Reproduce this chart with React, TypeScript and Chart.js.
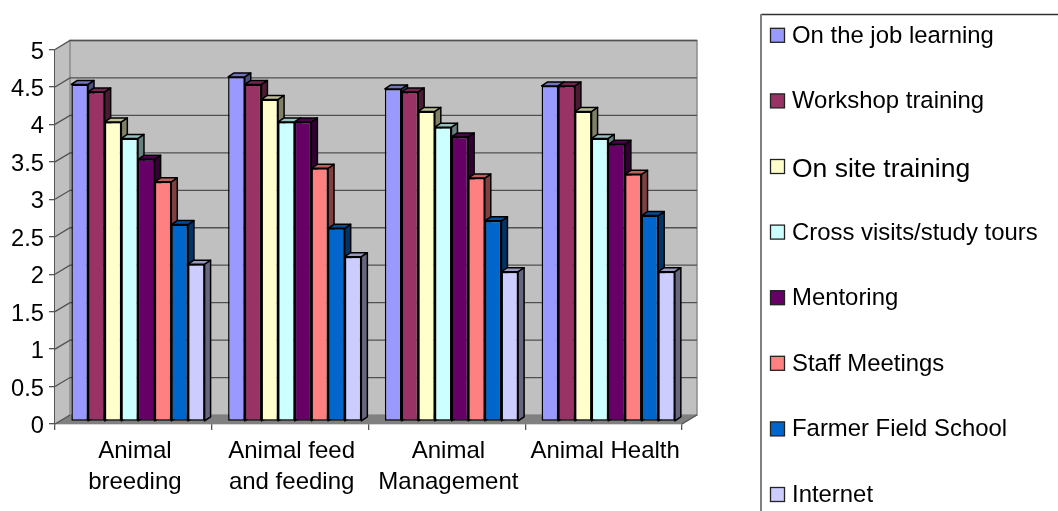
import React, { useEffect, useRef } from "react";
import { Chart, registerables } from "chart.js";

Chart.register(...registerables);

const categories = [["Animal", "breeding"], ["Animal feed", "and feeding"], ["Animal", "Management"], ["Animal Health"]];
const seriesNames = ["On the job learning", "Workshop training", "On site training", "Cross visits/study tours", "Mentoring", "Staff Meetings", "Farmer Field School", "Internet"];
const onTheJob = [4.5, 4.6, 4.44, 4.48];
const workshop = [4.4, 4.5, 4.4, 4.48];
const onSite = [4.0, 4.3, 4.14, 4.14];
const crossVisits = [3.78, 4.0, 3.93, 3.78];
const mentoring = [3.5, 4.0, 3.8, 3.7];
const staffMeetings = [3.2, 3.38, 3.25, 3.3];
const farmerField = [2.63, 2.58, 2.68, 2.75];
const internet = [2.1, 2.2, 2.0, 2.0];
const seriesValues = [onTheJob, workshop, onSite, crossVisits, mentoring, staffMeetings, farmerField, internet];
const colors = ["#9999FF", "#993366", "#FFFFCC", "#CCFFFF", "#660066", "#FF8080", "#0066CC", "#CCCCFF"];

const FONT = "'Liberation Sans', Arial, sans-serif";
const WALL_DX = 15, WALL_DY = 9;
const BAR_SHIFT_X = 4.6, BAR_SHIFT_Y = -2.5;
const BAR_DX = 6, BAR_DY = 4;
const OUTLINE = 1.5;

function shade(hex: string, k: number) {
  const n = parseInt(hex.slice(1), 16);
  const r = Math.round(((n >> 16) & 255) * k), g = Math.round(((n >> 8) & 255) * k), b = Math.round((n & 255) * k);
  return `rgb(${r},${g},${b})`;
}

function poly(ctx: CanvasRenderingContext2D, pts: number[][], fill: string | null, stroke?: string, lw = 1) {
  ctx.beginPath();
  pts.forEach((p, i) => (i ? ctx.lineTo(p[0], p[1]) : ctx.moveTo(p[0], p[1])));
  ctx.closePath();
  if (fill) { ctx.fillStyle = fill; ctx.fill(); }
  if (stroke) { ctx.strokeStyle = stroke; ctx.lineWidth = lw; ctx.stroke(); }
}

function shiftLabels(s: any, dx: number, dy: number) {
  if (s._labelShifted) return;
  s._labelShifted = true;
  const drawLabels = s.drawLabels;
  s.drawLabels = (area: any) => {
    s.ctx.save();
    s.ctx.translate(dx, dy);
    drawLabels.call(s, area);
    s.ctx.restore();
  };
}

const scene3d = {
  id: "scene3d",
  beforeDatasetsDraw(chart: any) {
    const { ctx, chartArea: a, scales } = chart;
    const y = scales.y;
    ctx.save();
    // side wall, back wall, floor
    poly(ctx, [[a.left, a.bottom], [a.left, a.top], [a.left + WALL_DX, a.top - WALL_DY], [a.left + WALL_DX, a.bottom - WALL_DY]], "#C0C0C0");
    poly(ctx, [[a.left + WALL_DX, a.top - WALL_DY], [a.right + WALL_DX, a.top - WALL_DY], [a.right + WALL_DX, a.bottom - WALL_DY], [a.left + WALL_DX, a.bottom - WALL_DY]], "#C0C0C0", "#8a8a8a", 1.5);
    poly(ctx, [[a.left, a.bottom], [a.left + WALL_DX, a.bottom - WALL_DY], [a.right + WALL_DX, a.bottom - WALL_DY], [a.right, a.bottom]], "#808080");
    // gridlines
    ctx.strokeStyle = "#505050";
    ctx.lineWidth = 1.3;
    y.ticks.forEach((t: any) => {
      const py = y.getPixelForValue(t.value);
      ctx.beginPath();
      ctx.moveTo(a.left, py);
      ctx.lineTo(a.left + WALL_DX, py - WALL_DY);
      if (t.value > 0) ctx.lineTo(a.right + WALL_DX, py - WALL_DY);
      else { ctx.moveTo(a.right, py); ctx.lineTo(a.right + WALL_DX, py - WALL_DY); }
      ctx.stroke();
    });
    // bars, left to right so a bar's front covers its left neighbour's side face
    ctx.translate(BAR_SHIFT_X, BAR_SHIFT_Y);
    ctx.lineJoin = "round";
    seriesNames.forEach((_, i) => {
      const base = colors[i];
      chart.getDatasetMeta(i).data.forEach((bar: any) => {
        const p = bar.getProps(["x", "y", "base", "width"], true);
        const l = p.x - p.width / 2, r = p.x + p.width / 2;
        poly(ctx, [[r, p.y], [r + BAR_DX, p.y - BAR_DY], [r + BAR_DX, p.base - BAR_DY], [r, p.base]], shade(base, 0.5), "#000", OUTLINE);
        poly(ctx, [[l, p.y], [l + BAR_DX, p.y - BAR_DY], [r + BAR_DX, p.y - BAR_DY], [r, p.y]], shade(base, 0.75), "#000", OUTLINE);
        bar.draw(ctx);
      });
    });
    ctx.restore();
  },
  beforeDatasetDraw() {
    return false;
  },
  afterDraw(chart: any) {
    const { ctx, width, height } = chart;
    ctx.save();
    // legend frame: top and left edges only, the rest runs off the picture
    ctx.strokeStyle = "#303030";
    ctx.lineWidth = 1.3;
    ctx.beginPath();
    ctx.moveTo(761, 14.5);
    ctx.lineTo(width, 14.5);
    ctx.stroke();
    ctx.strokeStyle = "#808080";
    ctx.lineWidth = 2;
    ctx.beginPath();
    ctx.moveTo(761, 14);
    ctx.lineTo(761, height);
    ctx.stroke();
    ctx.lineWidth = 1.3;
    ctx.textBaseline = "alphabetic";
    ctx.textAlign = "left";
    seriesNames.forEach((name, i) => {
      const cy = 35.3 + i * 65.6;
      ctx.fillStyle = colors[i];
      ctx.fillRect(770.5, cy - 7, 14, 14);
      ctx.strokeStyle = "#222";
      ctx.strokeRect(770.5, cy - 7, 14, 14);
      ctx.fillStyle = "#000";
      ctx.font = `${i === 2 ? 26.5 : 23.9}px ${FONT}`;
      ctx.fillText(name, 792, cy + (i === 2 ? 10.5 : 7.5));
    });
    ctx.restore();
  },
};

export default function App() {
  const ref = useRef<HTMLCanvasElement>(null);
  useEffect(() => {
    const chart = new Chart(ref.current!, {
      type: "bar",
      data: {
        labels: categories as any,
        datasets: seriesNames.map((name, i) => ({
          label: name,
          data: seriesValues[i],
          backgroundColor: colors[i],
          borderColor: "#000",
          borderWidth: OUTLINE,
          borderSkipped: false,
          categoryPercentage: 0.85,
          barPercentage: 1,
        })),
      },
      options: {
        responsive: false,
        devicePixelRatio: 1,
        animation: false,
        layout: { padding: { left: 0, right: 376, top: 49.5, bottom: 0 } },
        plugins: { legend: { display: false }, title: { display: false }, tooltip: { enabled: false } },
        scales: {
          x: {
            afterFit: (s: any) => {
              s.height = 87;
              shiftLabels(s, 1.5, 1);
            },
            grid: { offset: true, drawOnChartArea: false, drawTicks: true, tickLength: 6, tickColor: "#555", lineWidth: 1.3 },
            border: { color: "#555", width: 1.3 },
            ticks: { color: "#000", font: { family: FONT, size: 24, lineHeight: 1.3 }, padding: 5, maxRotation: 0, autoSkip: false },
          },
          y: {
            min: 0,
            max: 5,
            afterFit: (s: any) => {
              s.width = 55;
              shiftLabels(s, 0, 2.5);
            },
            grid: { drawOnChartArea: false, drawTicks: true, tickLength: 6, tickColor: "#555", lineWidth: 1.3 },
            border: { color: "#555", width: 1.3 },
            ticks: { stepSize: 0.5, color: "#000", font: { family: FONT, size: 23.7 }, padding: 5, callback: (v: any) => String(v) },
          },
        },
      },
      plugins: [scene3d],
    } as any);
    return () => chart.destroy();
  }, []);
  return (
    <div style={{ position: "absolute", left: 0, top: 0, width: 1058, height: 511, background: "#fff" }}>
      <canvas ref={ref} width={1058} height={511} style={{ display: "block" }} />
    </div>
  );
}
